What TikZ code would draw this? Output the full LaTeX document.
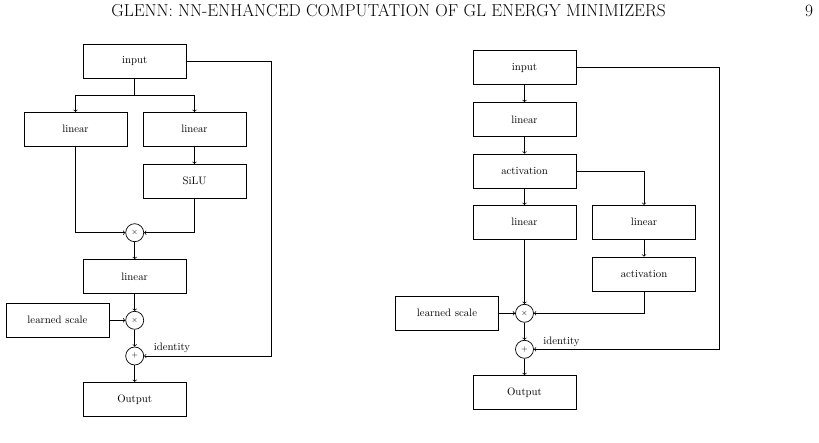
\documentclass[tikz,border=0pt]{standalone}
\usetikzlibrary{positioning}
\tikzset{
  block/.style={draw, line width=0.7pt, minimum width=103pt, minimum height=34pt, inner sep=0pt, font=\fontsize{10.8}{13}\selectfont},
  opcirc/.style={draw, circle, line width=0.7pt, minimum size=18pt, inner sep=0pt, font=\footnotesize},
  tag/.style={inner sep=0pt, font=\fontsize{10.8}{13}\selectfont},
  link/.style={->, line width=0.7pt},
  wire/.style={line width=0.7pt}
}
\begin{document}
\begin{tikzpicture}[x=1pt,y=-1pt]
    \useasboundingbox (0,0) rectangle (819,443);
    % running head
    \node[inner sep=0pt, anchor=base, font=\fontsize{17.3}{20}\selectfont] (head) at (388.5,16.7) {GLENN: NN-ENHANCED COMPUTATION OF GL ENERGY MINIMIZERS};
    \node[inner sep=0pt, anchor=base, font=\fontsize{17.3}{20}\selectfont] (page) at (809,16.7) {9};

    % left block: gated linear unit
    \node[block] (inA) at (134.7,61) {input};
    \node[block] (linAl) at (75.5,129.3) {linear};
    \node[block] (linAr) at (194.5,129.3) {linear};
    \node[block] (silu) at (194.5,181.3) {SiLU};
    \node[opcirc] (mulA) at (134.7,232.7) {$\times$};
    \node[block] (linAc) at (134.7,276.5) {linear};
    \node[block] (scaleA) at (57.5,320.3) {learned scale};
    \node[opcirc] (smulA) at (134.7,320.3) {$\times$};
    \node[opcirc] (addA) at (134.7,356) {$+$};
    \node[block] (outA) at (134.7,399.3) {Output};
    \node[tag] (idA) at (172,348) {identity};
    \coordinate (forkA) at (134.7,95);
    \coordinate (loopA) at (271,61);

    \draw[wire] (inA.south) -- (forkA);
    \draw[link] (forkA) -| (linAl.north);
    \draw[link] (forkA) -| (linAr.north);
    \draw[link] (linAr) -- (silu);
    \draw[link] (linAl.south) |- (mulA.west);
    \draw[link] (silu.south) |- (mulA.east);
    \draw[link] (mulA) -- (linAc);
    \draw[link] (linAc) -- (smulA);
    \draw[link] (scaleA) -- (smulA);
    \draw[link] (smulA) -- (addA);
    \draw[link] (addA) -- (outA);
    \draw[link] (inA.east) -- (loopA) |- (addA.east);

    % right block: two-branch product
    \node[block] (inB) at (524.5,67.8) {input};
    \node[block] (linB) at (524.5,119.5) {linear};
    \node[block] (actB) at (524.5,171) {activation};
    \node[block] (linBl) at (524.5,222.3) {linear};
    \node[block] (linBr) at (644,222.3) {linear};
    \node[block] (actBr) at (644,274) {activation};
    \node[block] (scaleB) at (447,313.3) {learned scale};
    \node[opcirc] (mulB) at (524.5,313.3) {$\times$};
    \node[opcirc] (addB) at (524.5,349.3) {$+$};
    \node[block] (outB) at (524.5,392.5) {Output};
    \node[tag] (idB) at (561.5,341.7) {identity};
    \coordinate (loopB) at (719,67.8);

    \draw[link] (inB) -- (linB);
    \draw[link] (linB) -- (actB);
    \draw[link] (actB) -- (linBl);
    \draw[link] (actB.east) -| (linBr.north);
    \draw[link] (linBr) -- (actBr);
    \draw[link] (linBl) -- (mulB);
    \draw[link] (actBr.south) |- (mulB.east);
    \draw[link] (scaleB) -- (mulB);
    \draw[link] (mulB) -- (addB);
    \draw[link] (addB) -- (outB);
    \draw[link] (inB.east) -- (loopB) |- (addB.east);
\end{tikzpicture}
\end{document}
